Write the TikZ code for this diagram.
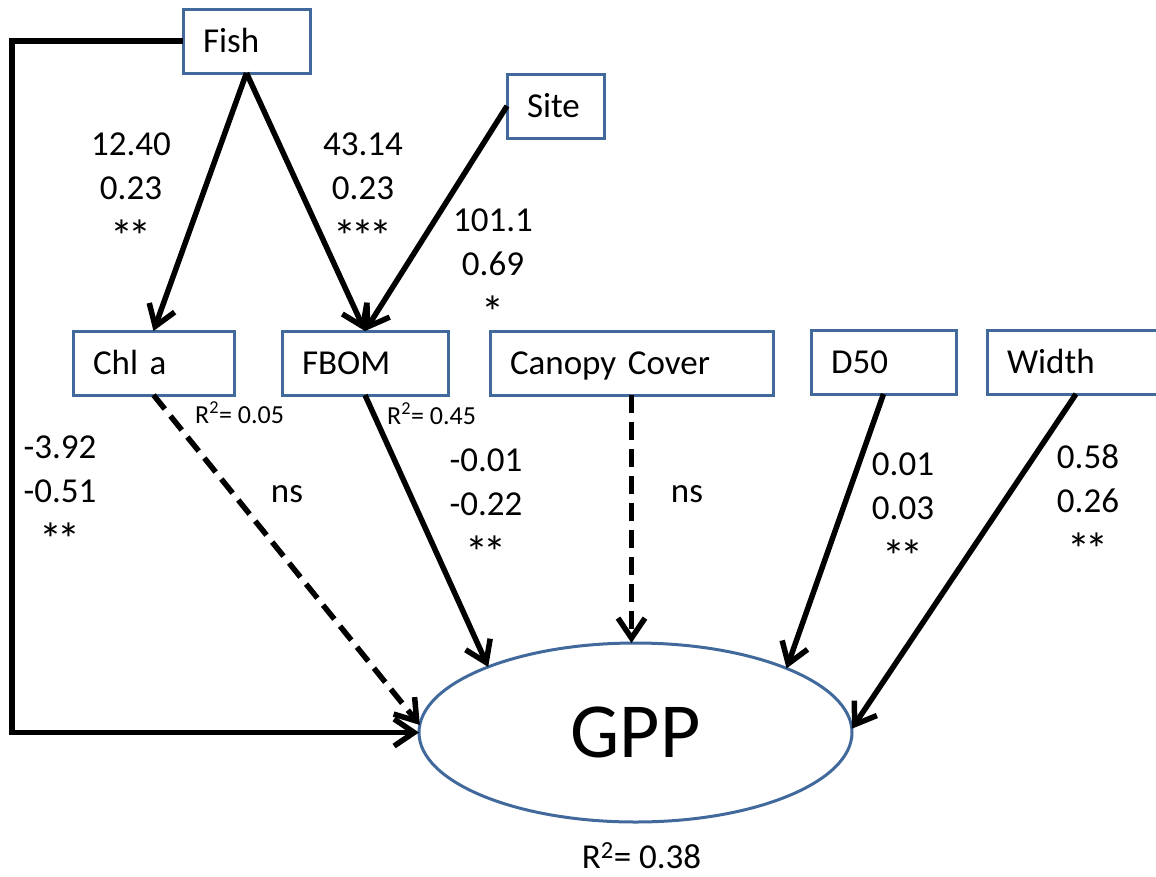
\documentclass[tikz,border=0pt]{standalone}
\usepackage{fontspec}
\setmainfont{Carlito}
\usetikzlibrary{arrows.meta,shapes.geometric}
\definecolor{boxblue}{RGB}{65,105,155}
% significance stars, set a little larger and tighter than the text
\newcommand\sigstars[1]{\raisebox{-9pt}{\fontsize{46}{44}\selectfont #1}}
\newcommand\tk{\kern-5pt}

\tikzset{
  varbox/.style={draw=boxblue, line width=3pt, rectangle, inner xsep=20pt,
    inner ysep=0pt, outer sep=0pt, minimum height=64pt, align=left, anchor=west,
    text height=22.4pt, text depth=0pt, font=\fontsize{35}{42}\selectfont},
  lab/.style={font=\fontsize{35}{44}\selectfont, align=center, anchor=base, inner sep=0pt},
  rlab/.style={font=\fontsize{26}{30}\selectfont, anchor=base west, inner sep=0pt},
  link/.style={line width=5.5pt, -{Straight Barb[length=20pt,width=27pt]}},
  dashlink/.style={link, dash pattern=on 18pt off 9pt},
}

\begin{document}
\begin{tikzpicture}[x=1pt, y=-1pt]
\useasboundingbox (0,0) rectangle (1156,876);

% variable boxes
\node[varbox, text width=87pt]  (fish)   at (183,41)  {Fish};
\node[varbox, text width=57pt]  (site)   at (507,106) {Site};
\node[varbox, text width=121pt] (chla)   at (73,363)  {Chl a};
\node[varbox, text width=126pt] (fbom)   at (282,363) {FBOM};
\node[varbox, text width=243pt] (canopy) at (490,363) {Canopy Cover};
\node[varbox, text width=105pt] (d50)    at (811,362) {D50};
\node[varbox, text width=138pt] (width)  at (987,362) {Width};

% response
\node[draw=boxblue, line width=3pt, ellipse, minimum width=433pt, minimum height=179pt,
  inner sep=0pt, outer sep=0pt, text height=50pt, text depth=0pt,
  font=\fontsize{78}{80}\selectfont] (gpp) at (635.5,732.5) {GPP};

% paths
\coordinate (corner) at (12,41);
\draw[link] (fish.south) -- (chla.north);
\draw[link] (fish.south) -- (fbom.north);
\draw[link] (site.west) -- (fbom.north);
\draw[link] (fish.west) -- (corner) |- (gpp.west);
\draw[dashlink] (chla.south) -- (gpp.178.8);
\draw[link] (fbom.south) -- (gpp.156.8);
\draw[dashlink] (canopy.south) -- (canopy.south |- gpp.north);
\draw[link] (d50.south) -- (gpp.23.2);
\draw[link] (width.south) -- (gpp.1.2);

% coefficients (anchored at the baseline of the last line)
\node[lab] (lfishchl)  at (131,243)  {12.40\\0.23\\\sigstars{*\tk*}};
\node[lab] (lfishfb)   at (363,243)  {43.14\\0.23\\\sigstars{*\tk*\tk*}};
\node[lab] (lsitefb)   at (493,319)  {101.1\\0.69\\\sigstars{*}};
\node[lab] (lfishgpp)  at (60,546)   {-3.92\\-0.51\\\sigstars{*\tk*}};
\node[lab] (lchlgpp)   at (287,502)  {ns};
\node[lab] (lfbgpp)    at (486,559)  {-0.01\\-0.22\\\sigstars{*\tk*}};
\node[lab] (lcangpp)   at (687,502)  {ns};
\node[lab] (ld50gpp)   at (903,563)  {0.01\\0.03\\\sigstars{*\tk*}};
\node[lab] (lwidgpp)   at (1088,556) {0.58\\0.26\\\sigstars{*\tk*}};

% explained variance
\node[rlab] (rchla) at (195,423) {R\textsuperscript{2}= 0.05};
\node[rlab] (rfbom) at (387,424) {R\textsuperscript{2}= 0.45};
\node[lab]  (rgpp)  at (641.5,868) {R\textsuperscript{2}= 0.38};
\end{tikzpicture}
\end{document}
